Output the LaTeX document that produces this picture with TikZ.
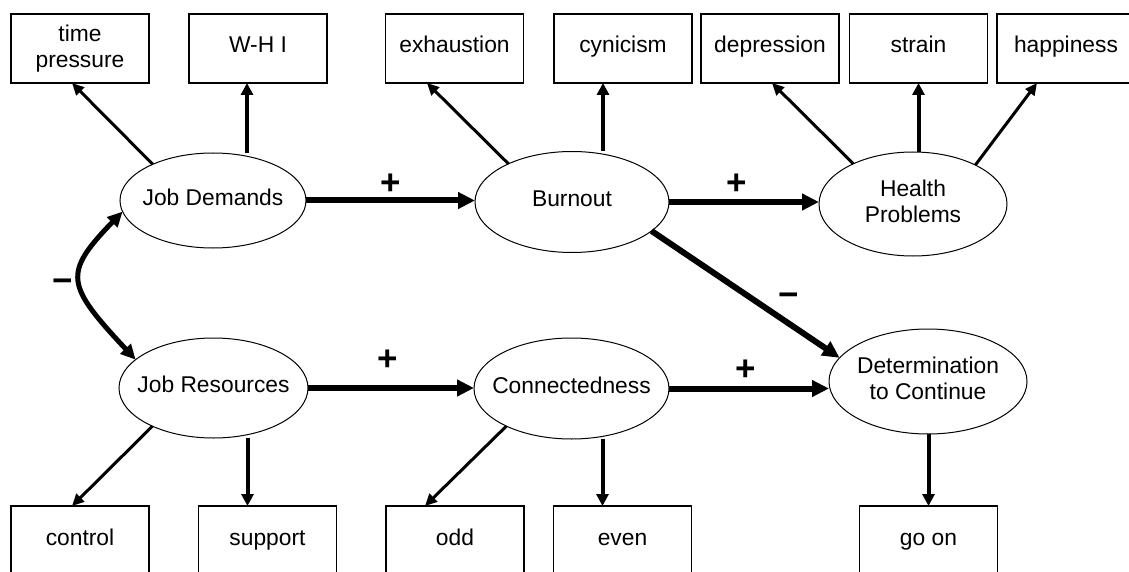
\documentclass[tikz,border=0pt]{standalone}
\usepackage{fontspec}
\setmainfont{Liberation Sans}
\usetikzlibrary{shapes.geometric,arrows.meta}
\begin{document}
\begin{tikzpicture}[x=1pt,y=-1pt,
  every node/.style={font=\fontsize{22.8}{26}\selectfont},
  box/.style={draw,line width=1.3pt,rectangle,minimum width=138pt,minimum height=69pt,inner sep=0pt,outer sep=0pt},
  boxone/.style={text height=17pt,text depth=8pt},
  lat/.style={draw,ellipse,line width=1pt,inner sep=0pt,outer sep=0pt},
  bigarrow/.style={line width=6pt,-{Triangle[length=17pt,width=16pt]}},
  indarrow/.style={line width=3pt,-{Triangle[length=12pt,width=11pt]}},
  vindarrow/.style={line width=4pt,-{Triangle[length=12pt,width=12pt]}},
  curvarrow/.style={line width=5pt,{Triangle[length=15pt,width=14pt]}-{Triangle[length=15pt,width=14pt]}},
  signlbl/.style={anchor=base,inner sep=0pt,font=\fontsize{35}{37}\selectfont\bfseries}
]
\useasboundingbox (0,0) rectangle (1129,572);

% top indicator boxes
\node[box,align=center] (tp) at (80,48.5) {time\\pressure};
\node[box,boxone] (wh) at (258,48.5) {W-H I};
\node[box,boxone] (ex) at (454.5,48.5) {exhaustion};
\node[box,boxone] (cy) at (623,48.5) {cynicism};
\node[box,boxone] (de) at (770,48.5) {depression};
\node[box,boxone] (st) at (918.5,48.5) {strain};
\node[box,boxone] (ha) at (1066,48.5) {happiness};

% bottom indicator boxes
\node[box,boxone] (co) at (80,540.5) {control};
\node[box,boxone] (su) at (267.5,540.5) {support};
\node[box,boxone] (od) at (455,540.5) {odd};
\node[box,boxone] (ev) at (622.5,540.5) {even};
\node[box,boxone] (go) at (928.5,540.5) {go on};

% latent variables
\node[lat,boxone,minimum width=186pt,minimum height=95pt] (jd) at (213,200.5) {\makebox[0pt]{Job Demands}};
\node[lat,boxone,minimum width=194pt,minimum height=101pt] (bu) at (572,202) {\makebox[0pt]{Burnout}};
\node[lat,minimum width=188pt,minimum height=104pt] (hp) at (913,204) {\makebox[0pt]{\begin{tabular}[t]{@{}c@{}}Health\\Problems\end{tabular}}};
\node[lat,boxone,minimum width=189pt,minimum height=100pt] (jr) at (213.5,388) {\makebox[0pt]{Job Resources}};
\node[lat,boxone,minimum width=195pt,minimum height=101pt] (cn) at (571.5,388.5) {\makebox[0pt]{Connectedness}};
\node[lat,minimum width=198pt,minimum height=105pt] (dt) at (928,381.5) {\makebox[0pt]{\begin{tabular}[t]{@{}c@{}}Determination\\to Continue\end{tabular}}};

% structural paths
\draw[bigarrow] (jd.east) -- (jd.east -| bu.west);
\draw[bigarrow] (bu.east) -- (bu.east -| hp.west);
\draw[bigarrow] (bu.340) -- (dt.165);
\draw[bigarrow] (jr.east) -- (jr.east -| cn.west);
\draw[bigarrow] (cn.east) -- (cn.east -| dt.west);
\draw[curvarrow] (jd.187) .. controls +(-60,62) and +(-70,-75) .. (jr.160);

% measurement paths
\draw[indarrow] (jd.149) -- ([xshift=-8pt]tp.south);
\draw[vindarrow] ([xshift=34pt]jd.north) -- ([xshift=34pt]jd.north |- wh.south);
\draw[indarrow] (bu.149.5) -- ([xshift=-27.5pt]ex.south);
\draw[vindarrow] ([xshift=31pt]bu.north) -- ([xshift=31pt]bu.north |- cy.south);
\draw[indarrow] (hp.146.7) -- ([xshift=2pt]de.south);
\draw[vindarrow] (st.south |- hp.north) -- (st.south);
\draw[indarrow] (hp.32.9) -- ([xshift=-29pt]ha.south);
\draw[indarrow] (jr.212) -- ([xshift=-8pt]co.north);
\draw[vindarrow] ([xshift=34pt]jr.south) -- ([xshift=34pt]jr.south |- su.north);
\draw[indarrow] (cn.210.2) -- ([xshift=-30pt]od.north);
\draw[vindarrow] ([xshift=31pt]cn.south) -- ([xshift=31pt]cn.south |- ev.north);
\draw[vindarrow] (go.north |- dt.south) -- (go.north);

% signs
\node[signlbl] (s1) at (391,194) {+};
\node[signlbl] (s2) at (737,194) {+};
\node[signlbl] (s3) at (789,306) {−};
\node[signlbl] (s4) at (388,370) {+};
\node[signlbl] (s5) at (746,380) {+};
\node[signlbl] (s6) at (63,292) {−};
\end{tikzpicture}
\end{document}
